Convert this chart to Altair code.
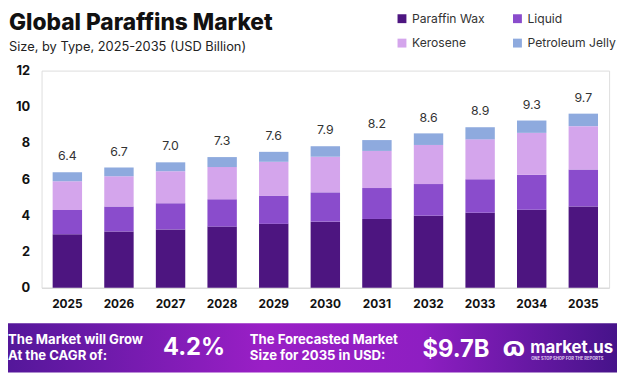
import altair as alt
import pandas as pd

years = ["2025", "2026", "2027", "2028", "2029", "2030", "2031", "2032", "2033", "2034", "2035"]
paraffin_wax = [2.96, 3.11, 3.22, 3.38, 3.53, 3.65, 3.80, 3.98, 4.15, 4.31, 4.49]
liquid = [1.33, 1.38, 1.45, 1.51, 1.56, 1.62, 1.71, 1.75, 1.85, 1.93, 2.04]
kerosene = [1.60, 1.67, 1.77, 1.78, 1.87, 1.97, 2.05, 2.16, 2.20, 2.32, 2.40]
petroleum_jelly = [0.49, 0.48, 0.49, 0.55, 0.55, 0.58, 0.60, 0.64, 0.67, 0.68, 0.69]
totals = [6.4, 6.7, 7.0, 7.3, 7.6, 7.9, 8.2, 8.6, 8.9, 9.3, 9.7]
types = ["Paraffin Wax", "Liquid", "Kerosene", "Petroleum Jelly"]
colors = ["#4d1580", "#8a4ccc", "#d4a5ec", "#8eaade"]
y_ticks = [0, 2, 4, 6, 8, 10, 12]

series = [paraffin_wax, liquid, kerosene, petroleum_jelly]
rows = []
for i, yr in enumerate(years):
    for k, (t, vals) in enumerate(zip(types, series)):
        rows.append({"Year": yr, "Type": t, "Value": vals[i], "ord": k})
df = pd.DataFrame(rows)
tops = [round(sum(s[i] for s in series), 3) for i in range(len(years))]
tot = pd.DataFrame({"Year": years, "Total": totals, "Top": tops})

# legend is filled column by column: order the domain so rows read
# "Paraffin Wax, Liquid" / "Kerosene, Petroleum Jelly"
legend_order = [types[0], types[2], types[1], types[3]]
legend_colors = [colors[0], colors[2], colors[1], colors[3]]

FONT = "Inter"

y_axis = alt.Axis(values=y_ticks, title=None, grid=False, domain=False, ticks=False,
                  labelFont=FONT, labelFontWeight="bold", labelFontSize=13,
                  labelColor="#111111", labelPadding=12, labelOverlap=False)
y_scale = alt.Scale(domain=[0, 12])

x_enc = alt.X(
    "Year:N", sort=years,
    scale=alt.Scale(paddingInner=0.43, paddingOuter=0.215),
    axis=alt.Axis(title=None, labelAngle=0, labelFont=FONT, labelFontWeight="bold",
                  labelFontSize=12, labelColor="#111111", labelPadding=11, ticks=False,
                  domainColor="#d6d6d6", domainWidth=1),
)

bars = alt.Chart(df).mark_bar().encode(
    x=x_enc,
    y=alt.Y("Value:Q", stack="zero", scale=y_scale, axis=y_axis),
    color=alt.Color("Type:N", scale=alt.Scale(domain=legend_order, range=legend_colors),
                    legend=alt.Legend(title=None, orient="none", legendX=359, legendY=-59,
                                      columns=2, symbolType="square", symbolSize=81,
                                      symbolStrokeWidth=0, labelFont=FONT, labelFontSize=12.3,
                                      labelColor="#333333", columnPadding=26, rowPadding=12,
                                      labelOffset=4, labelLimit=200)),
    order=alt.Order("ord:Q", sort="ascending"),
)

labels = alt.Chart(tot).mark_text(dy=-12, baseline="alphabetic", fontSize=12.5,
                                  font=FONT, color="#333333").encode(
    x=alt.X("Year:N", sort=years),
    y=alt.Y("Top:Q", scale=y_scale, axis=y_axis),
    text=alt.Text("Total:Q", format=".1f"),
)

one = pd.DataFrame({"a": [0]})

banner = alt.Chart(one).mark_rect(
    color=alt.Gradient(
        gradient="linear", x1=0, x2=1, y1=0, y2=0,
        stops=[alt.GradientStop(color="#54179a", offset=0),
               alt.GradientStop(color="#9a1fc6", offset=0.42),
               alt.GradientStop(color="#8e1ec2", offset=0.68),
               alt.GradientStop(color="#46138a", offset=1)],
    )
).encode(x=alt.value(-34), x2=alt.value(583), y=alt.value(256), y2=alt.value(306))


def txt(s, xv, yv, size, weight="bold", color="white", align="left"):
    return alt.Chart(one).mark_text(
        text=s, font=FONT, fontSize=size, fontWeight=weight, color=color,
        align=align, baseline="alphabetic",
    ).encode(x=alt.value(xv), y=alt.value(yv))


title = txt("Global Paraffins Market", -33, -41, 23, weight=800, color="#111111")
subtitle = txt("Size, by Type, 2025-2035 (USD Billion)", -33, -20, 13, weight="normal",
               color="#222222")
b1a = txt("The Market will Grow", -34, 277, 13.3)
b1b = txt("At the CAGR of:", -34, 293, 13.3)
b2 = txt("4.2%", 123, 288, 24)
b3a = txt("The Forecasted Market", 211, 277, 13.3)
b3b = txt("Size for 2035 in USD:", 211, 293, 13.3)
b4 = txt("$9.7B", 386, 290, 24)
b7 = txt("ɷ", 466, 289, 27)
b5 = txt("market.us", 495, 286, 17)
b6 = txt("ONE STOP SHOP FOR THE REPORTS", 496, 293, 4.2, color="#e0d0f0")

chart = alt.layer(banner, bars, labels, title, subtitle, b1a, b1b, b2, b3a, b3b, b4, b5, b6,
                  b7).properties(
    width=575, height=220,
    autosize=alt.AutoSizeParams(type="none"),
    padding={"left": 34, "top": 61, "right": 8, "bottom": 86},
).configure_view(stroke=None).configure(font=FONT)

chart.save("out.html", embed_options={"renderer": "svg", "actions": False})
